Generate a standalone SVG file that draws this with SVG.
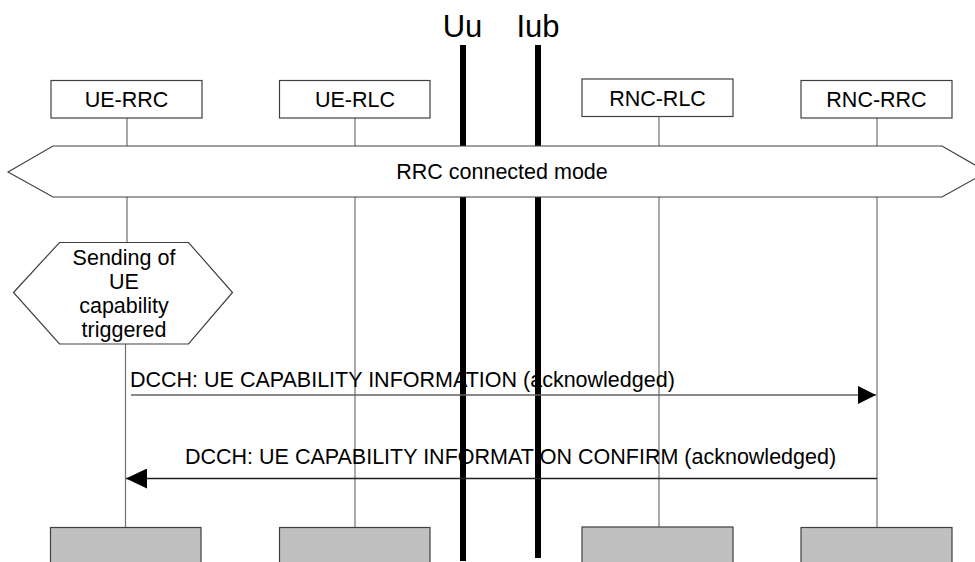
<svg xmlns="http://www.w3.org/2000/svg" width="975" height="562" viewBox="0 0 975 562">
<defs>
<style>
text{font-family:"Liberation Sans",Arial,sans-serif;font-size:21.5px;fill:#000}
.box{fill:#fff;stroke:#404040;stroke-width:1.2}
.foot{fill:#c0c0c0;stroke:#404040;stroke-width:1.2}
.life{stroke:#707070;stroke-width:1.2;fill:none}
.iface{stroke:#000;stroke-width:6}
.msg{stroke:#606060;stroke-width:1.5;fill:none}
</style>
<marker id="ah1" markerUnits="userSpaceOnUse" markerWidth="18" markerHeight="18" refX="18" refY="9" orient="auto">
<path d="M0,0 L18,9 L0,18 Z" fill="#000"/>
</marker>
<marker id="ah2" markerUnits="userSpaceOnUse" markerWidth="21" markerHeight="20" refX="21" refY="10" orient="auto">
<path d="M0,0 L21,10 L0,20 Z" fill="#000"/>
</marker>
</defs>
<rect width="975" height="562" fill="#fff"/>
<g id="lifelines">
<line class="life" x1="127" y1="118" x2="127" y2="242"/>
<line class="life" x1="125.5" y1="344" x2="125.5" y2="527"/>
<line class="life" x1="355" y1="118" x2="355" y2="527"/>
<line class="life" x1="659" y1="117" x2="659" y2="527"/>
<line class="life" x1="877" y1="118" x2="877" y2="527"/>
</g>
<g id="interfaces">
<line class="iface" x1="463" y1="45" x2="463" y2="561"/>
<line class="iface" x1="538" y1="45" x2="538" y2="558"/>
<text x="462.5" y="37" text-anchor="middle" style="font-size:31px">Uu</text>
<text x="538" y="37" text-anchor="middle" style="font-size:31px">Iub</text>
</g>
<g id="ue-rrc"><rect class="box" x="51" y="80.5" width="151" height="37.5"/><text x="126.5" y="107" text-anchor="middle">UE-RRC</text></g>
<g id="ue-rlc"><rect class="box" x="279.5" y="80.5" width="150.5" height="37.5"/><text x="355" y="107" text-anchor="middle">UE-RLC</text></g>
<g id="rnc-rlc"><rect class="box" x="582" y="79" width="151" height="37.5"/><text x="657.5" y="106" text-anchor="middle">RNC-RLC</text></g>
<g id="rnc-rrc"><rect class="box" x="801" y="80.5" width="151" height="37.5"/><text x="876.5" y="107" text-anchor="middle">RNC-RRC</text></g>
<g id="rrc-connected-mode">
<polygon points="8,172 53,146 942,146 987,172 942,197 53,197" fill="#fff" stroke="#404040" stroke-width="1.2"/>
<text x="502" y="179" text-anchor="middle">RRC connected mode</text>
</g>
<g id="sending-trigger">
<polygon points="13.5,292.5 59.5,242.5 188.5,242.5 232.5,292.5 188.5,344 59.5,344" fill="#fff" stroke="#404040" stroke-width="1.2"/>
<text x="124" y="264.5" text-anchor="middle">Sending of</text>
<text x="124" y="288.5" text-anchor="middle">UE</text>
<text x="124" y="312.5" text-anchor="middle">capability</text>
<text x="124" y="336.5" text-anchor="middle">triggered</text>
</g>
<g id="connectors">
<line class="msg" x1="131" y1="395" x2="876" y2="395" marker-end="url(#ah1)"/>
<text x="130" y="386.5">DCCH: UE CAPABILITY INFORMATION (acknowledged)</text>
<line class="msg" x1="877" y1="478.5" x2="126" y2="478.5" marker-end="url(#ah2)" style="stroke:#202020"/>
<text x="185" y="464">DCCH: UE CAPABILITY INFORMATION CONFIRM (acknowledged)</text>
</g>
<g id="footers">
<rect class="foot" x="50.5" y="527.5" width="150.5" height="40"/>
<rect class="foot" x="279.5" y="527.5" width="150.5" height="40"/>
<rect class="foot" x="582" y="527" width="151" height="40"/>
<rect class="foot" x="801" y="527.5" width="151" height="40"/>
</g>
</svg>
